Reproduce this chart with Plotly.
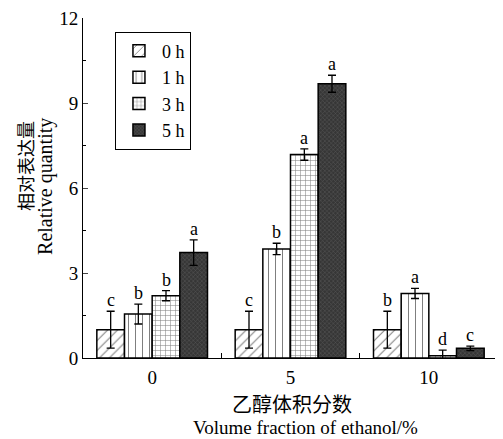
import plotly.graph_objects as go

categories = [0, 5, 10]
series_names = ["0 h", "1 h", "3 h", "5 h"]
values = {
    "0 h": [1.0, 1.0, 1.0],
    "1 h": [1.55, 3.85, 2.28],
    "3 h": [2.2, 7.18, 0.08],
    "5 h": [3.72, 9.68, 0.34],
}
errors = {
    "0 h": [0.65, 0.65, 0.65],
    "1 h": [0.35, 0.2, 0.18],
    "3 h": [0.18, 0.2, 0.2],
    "5 h": [0.45, 0.3, 0.08],
}
letters = {
    "0 h": ["c", "c", "b"],
    "1 h": ["b", "b", "a"],
    "3 h": ["b", "a", "d"],
    "5 h": ["a", "a", "c"],
}
y_ticks = [0, 3, 6, 9, 12]
x_title_cn = "乙醇体积分数"
x_title_en = "Volume fraction of ethanol/%"
y_title_cn = "相对表达量"
y_title_en = "Relative quantity"

SERIF = "Liberation Serif, Times New Roman, serif"
CJK = "Noto Sans CJK SC"

patterns = {
    "0 h": dict(shape="/", bgcolor="white", fgcolor="black", size=7, solidity=0.15),
    "1 h": dict(shape="|", bgcolor="white", fgcolor="black", size=7, solidity=0.15),
    "3 h": dict(shape="+", bgcolor="white", fgcolor="black", size=5, solidity=0.2),
    "5 h": dict(shape="x", bgcolor="#363636", fgcolor="#7a7a7a", size=3, solidity=0.3),
}

fig = go.Figure()
for name in series_names:
    fig.add_trace(go.Bar(
        x=categories, y=values[name], name=name,
        marker=dict(color="white", pattern=patterns[name],
                    line=dict(color="black", width=1.5)),
        error_y=dict(type="data", array=errors[name], color="black",
                     thickness=1.3, width=4),
    ))

offsets = [-1.5, -0.5, 0.5, 1.5]
for i, name in enumerate(series_names):
    for j, c in enumerate(categories):
        fig.add_annotation(
            x=c + offsets[i], y=values[name][j] + errors[name][j],
            text=letters[name][j], showarrow=False, yanchor="bottom",
            yshift=-1, font=dict(family=SERIF, size=18, color="black"),
        )

# axis titles
title_annots = [
    dict(text=x_title_cn, x=0.5036, y=-0.135, font=dict(family=CJK, size=20), textangle=0),
    dict(text=x_title_en, x=0.537, y=-0.205, font=dict(family=SERIF, size=19), textangle=0),
    dict(text=y_title_cn, x=-0.1398, y=0.565, font=dict(family=CJK, size=18), textangle=-90),
    dict(text=y_title_en, x=-0.0892, y=0.506, font=dict(family=SERIF, size=20), textangle=-90),
]
for a in title_annots:
    fig.add_annotation(xref="paper", yref="paper", showarrow=False,
                       xanchor="center", yanchor="middle", **a)

# page body has an 8px margin, so the figure is offset by (8, 8)
fig.update_layout(
    width=495, height=431,
    margin=dict(l=75, r=5, t=10, b=81, autoexpand=False),
    paper_bgcolor="white", plot_bgcolor="white",
    barmode="group", bargap=0.2, bargroupgap=0,
    font=dict(family=SERIF, size=16, color="black"),
    legend=dict(
        x=0.077, y=0.96, xanchor="left", yanchor="top",
        bordercolor="black", borderwidth=1, bgcolor="white",
        font=dict(family=SERIF, size=18), tracegroupgap=0,
        itemwidth=36,
    ),
    xaxis=dict(
        range=[-2.5, 12.5], tickvals=categories,
        ticktext=[str(c) for c in categories], ticks="",
        showline=True, linecolor="black", linewidth=1,
        showgrid=False, zeroline=False, automargin=False,
        ticklabelstandoff=2, ticklabeloverflow="allow",
        minor=dict(tickvals=[2.5, 7.5, 12.5], ticks="inside", ticklen=5,
                   tickcolor="black"),
        tickfont=dict(family=SERIF, size=19),
    ),
    yaxis=dict(
        range=[0, 12], tickvals=y_ticks, ticks="inside", ticklen=5,
        showline=True, linecolor="black", linewidth=1,
        showgrid=False, zeroline=False, automargin=False,
        ticklabeloverflow="allow",
        minor=dict(dtick=1.5, ticks="inside", ticklen=3, tickcolor="black"),
        tickfont=dict(family=SERIF, size=19),
    ),
)

fig.write_html("out.html")
